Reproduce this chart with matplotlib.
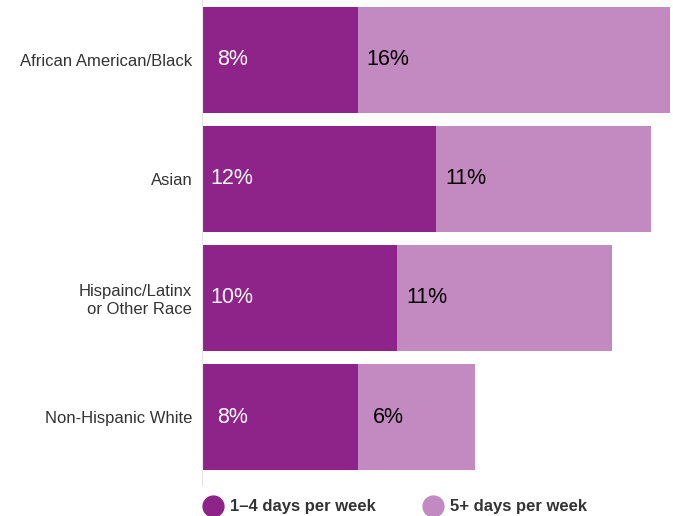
import matplotlib.pyplot as plt
from matplotlib.lines import Line2D

plt.rcParams['font.family'] = ['Liberation Sans', 'DejaVu Sans']

# data
groups = ['African American/Black', 'Asian', 'Hispainc/Latinx\nor Other Race', 'Non-Hispanic White']
days_1_4 = [8, 12, 10, 8]
days_5_plus = [16, 11, 11, 6]
series_names = ['1\u20134 days per week', '5+ days per week']

dark = '#8E2489'
light = '#C389C1'

fig = plt.figure(figsize=(6.73, 5.16), dpi=100)
# axes placed in pixel terms: x 202..670, y 0..485 from top
ax = fig.add_axes([202 / 673, 31 / 516, 468 / 673, 485 / 516])

ypos = list(range(len(groups)))
ax.barh(ypos, days_1_4, height=0.89, color=dark)
ax.barh(ypos, days_5_plus, left=days_1_4, height=0.89, color=light)

for y, a, b in zip(ypos, days_1_4, days_5_plus):
    ax.text(1.55, y, f'{a}%', color='white', fontsize=15.5, va='center', ha='center')
    ax.text(a + 1.55, y, f'{b}%', color='black', fontsize=15.5, va='center', ha='center')

ax.set_xlim(0, 24)
ax.set_ylim(3.57, -0.5)
ax.set_yticks(ypos)
ax.set_yticklabels(groups, fontsize=12, color='#333333', linespacing=1.25)
ax.tick_params(axis='y', length=0, pad=7)
ax.set_xticks([])
for s in ['top', 'right', 'bottom']:
    ax.spines[s].set_visible(False)
ax.spines['left'].set_color('#e6e6e6')
ax.spines['left'].set_linewidth(0.8)

# legend along the bottom
for xp, name, c in [(213, series_names[0], dark), (433, series_names[1], light)]:
    fig.add_artist(Line2D([xp / 673], [10 / 516], marker='o', markersize=15,
                          color=c, linestyle='none', transform=fig.transFigure))
    fig.text((xp + 17) / 673, 10 / 516, name, fontsize=12, fontweight='bold',
             color='#333333', va='center', ha='left')

fig.savefig('out.png', dpi=100)
